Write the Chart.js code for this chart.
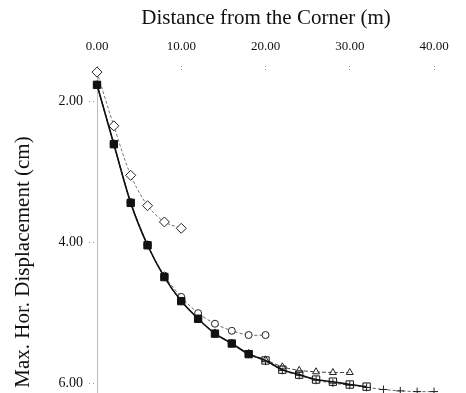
<!DOCTYPE html>
<html>
<head>
<meta charset="utf-8">
<script src="https://cdn.jsdelivr.net/npm/chart.js@4.4.0/dist/chart.umd.min.js"></script>
<style>
  html, body { margin: 0; padding: 0; background: #fff; }
  #wrap { width: 466px; height: 393px; position: relative; }
</style>
</head>
<body>
<div id="wrap"><canvas id="c" width="466" height="393"></canvas></div>
<script>
// ---- Data ----
const xTicks = [0, 10, 20, 30, 40];
const yTicks = [2, 4, 6];

const diamondX = [0, 2, 4, 6, 8, 10];
const diamondY = [1.59, 2.35, 3.05, 3.48, 3.71, 3.80];

const circleX = [0, 2, 4, 6, 8, 10, 12, 14, 16, 18, 20];
const circleY = [1.77, 2.60, 3.43, 4.03, 4.47, 4.77, 5.00, 5.15, 5.25, 5.31, 5.31];

const triangleX = [0, 2, 4, 6, 8, 10, 12, 14, 16, 18, 20, 22, 24, 26, 28, 30];
const triangleY = [1.77, 2.61, 3.44, 4.04, 4.49, 4.83, 5.08, 5.28, 5.43, 5.57, 5.66, 5.76, 5.81, 5.83, 5.84, 5.84];

const squareX = [0, 2, 4, 6, 8, 10, 12, 14, 16, 18, 20, 22, 24, 26, 28, 30, 32];
const squareY = [1.77, 2.61, 3.44, 4.04, 4.49, 4.83, 5.08, 5.29, 5.43, 5.58, 5.67, 5.80, 5.87, 5.94, 5.97, 6.01, 6.04];

const plusX = [0, 2, 4, 6, 8, 10, 12, 14, 16, 18, 20, 22, 24, 26, 28, 30, 32, 34, 36, 38, 40];
const plusY = [1.77, 2.61, 3.44, 4.04, 4.49, 4.83, 5.08, 5.29, 5.43, 5.58, 5.68, 5.81, 5.88, 5.95, 5.99, 6.02, 6.05, 6.08, 6.10, 6.11, 6.11];

const xTitle = "Distance from the Corner (m)";
const yTitle = "Max. Hor. Displacement (cm)";

const pts = (xs, ys) => xs.map((x, i) => ({ x: x, y: ys[i] }));

const serif = "'Liberation Serif', 'DejaVu Serif', serif";

const textPlugin = {
  id: 'texts',
  afterDraw(chart) {
    const ctx = chart.ctx;
    ctx.save();
    ctx.fillStyle = '#111';
    ctx.font = '21px ' + serif;
    ctx.textAlign = 'center';
    ctx.textBaseline = 'middle';
    ctx.fillText(xTitle, 266, 18);
    ctx.translate(23, 262);
    ctx.rotate(-Math.PI / 2);
    ctx.fillText(yTitle, 0, 0);
    ctx.restore();
  }
};

new Chart(document.getElementById('c'), {
  type: 'line',
  data: {
    datasets: [
      {
        label: 'Squares', data: pts(squareX, squareY),
        borderColor: '#111', borderWidth: 1.6,
        pointStyle: 'rect', pointRadius: 5.2, pointBorderWidth: 1,
        pointBorderColor: '#111',
        pointBackgroundColor: squareX.map(x => x <= 18 ? '#111' : 'rgba(255,255,255,0)'),
        tension: 0.3, clip: false
      },
      {
        label: 'Diamonds', data: pts(diamondX, diamondY),
        borderColor: '#555', borderWidth: 0.8, borderDash: [3, 2],
        pointStyle: 'rectRot', pointRadius: 5, pointBorderWidth: 1,
        pointBorderColor: '#222', pointBackgroundColor: '#fff',
        tension: 0.3, clip: false
      },
      {
        label: 'Triangles', data: pts(triangleX, triangleY),
        borderColor: '#333', borderWidth: 0.9, borderDash: [4, 2],
        pointStyle: 'triangle', pointRadius: 4, pointBorderWidth: 1,
        pointBorderColor: '#222', pointBackgroundColor: 'rgba(255,255,255,0.6)',
        tension: 0.3, clip: false
      },
      {
        label: 'Circles', data: pts(circleX, circleY),
        borderColor: '#444', borderWidth: 0.8, borderDash: [3, 2],
        pointStyle: 'circle', pointRadius: 3.5, pointBorderWidth: 1,
        pointBorderColor: '#222', pointBackgroundColor: '#fff',
        tension: 0.3, clip: false
      },
      {
        label: 'Plus', data: pts(plusX, plusY),
        borderColor: '#444', borderWidth: 0.8, borderDash: [3, 2],
        pointStyle: 'cross', pointRadius: 4, pointBorderWidth: 1,
        pointBorderColor: '#222', pointBackgroundColor: '#fff',
        tension: 0.3, clip: false
      }
    ]
  },
  options: {
    responsive: false,
    animation: false,
    layout: { autoPadding: false, padding: { left: 0, right: 32, top: 0, bottom: 0 } },
    plugins: { legend: { display: false }, tooltip: { enabled: false } },
    scales: {
      x: {
        type: 'linear', position: 'top',
        min: 0, max: 40,
        afterFit(s) { s.height = 70; s.paddingLeft = 0; s.paddingRight = 0; },
        afterBuildTicks(s) { s.ticks = xTicks.map(v => ({ value: v })); },
        grid: { display: true, drawOnChartArea: false, drawTicks: true, tickLength: 4, color: '#999', tickBorderDash: [1, 2] },
        border: { display: false },
        ticks: {
          color: '#111', padding: 12, maxRotation: 0,
          font: { family: serif, size: 13 },
          callback: v => Number(v).toFixed(2)
        }
      },
      y: {
        type: 'linear', reverse: true,
        min: 1.56, max: 6.13,
        afterFit(s) { s.width = 97; s.paddingTop = 0; s.paddingBottom = 0; },
        afterBuildTicks(s) { s.ticks = yTicks.map(v => ({ value: v })); },
        grid: { display: true, drawOnChartArea: false, drawTicks: true, tickLength: 8, color: '#999', tickBorderDash: [1, 3] },
        border: { display: true, color: '#bbb', dash: [2, 7], width: 1 },
        ticks: {
          color: '#111', padding: 6,
          font: { family: serif, size: 14 },
          callback: v => Number(v).toFixed(2)
        }
      }
    }
  },
  plugins: [textPlugin]
});
</script>
</body>
</html>
